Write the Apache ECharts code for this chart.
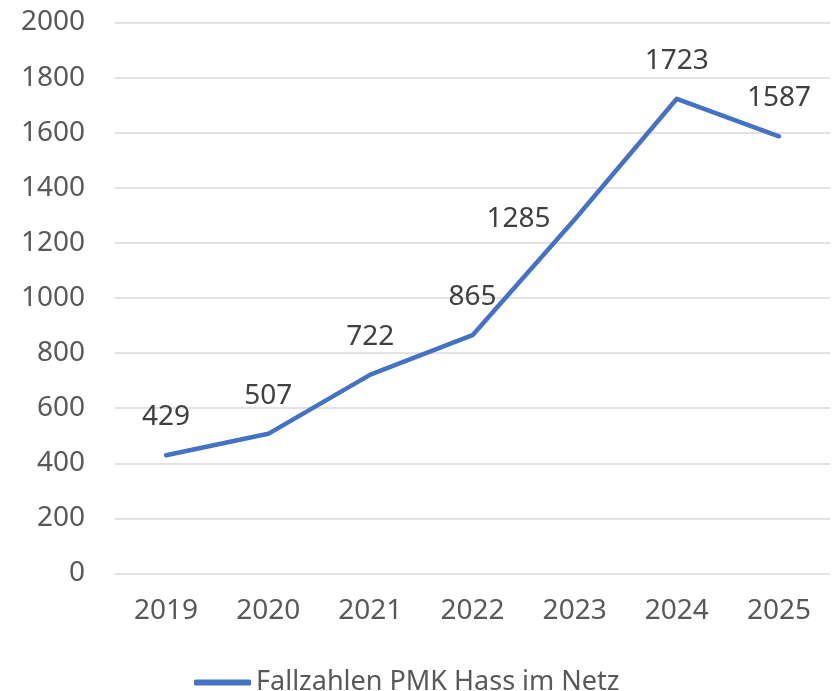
<!DOCTYPE html>
<html>
<head>
<meta charset="utf-8">
<script src="https://cdn.jsdelivr.net/npm/echarts@6/dist/echarts.min.js"></script>
<style>html,body{margin:0;padding:0;background:#fff}#c{width:834px;height:691px}</style>
</head>
<body>
<div id="c"></div>
<script>
const categories = ['2019','2020','2021','2022','2023','2024','2025'];
const values = [429, 507, 722, 865, 1285, 1723, 1587];
const labelPositions = ['top','top','top','top','left','top','top'];
const seriesName = 'Fallzahlen PMK Hass im Netz';
const yTicks = {min: 0, max: 2000, interval: 200};

const FONT = 'Noto Sans';
const chart = echarts.init(document.getElementById('c'), null, {renderer: 'canvas'});
chart.setOption({
  animation: false,
  backgroundColor: '#ffffff',
  grid: {left: 115, right: 4, top: 22.5, bottom: 691 - 573.5, containLabel: false},
  legend: {
    data: [{name: seriesName, icon: 'roundRect'}],
    left: 189, top: 664,
    itemWidth: 57, itemHeight: 6, itemGap: 5,
    itemStyle: {color: '#4472C4', opacity: 1, borderWidth: 0},
    lineStyle: {opacity: 0},
    textStyle: {fontFamily: FONT, fontSize: 27, color: '#595959', padding: [0,0,0,0]}
  },
  xAxis: {
    type: 'category', data: categories, boundaryGap: true,
    axisLine: {show: false}, axisTick: {show: false},
    axisLabel: {fontFamily: FONT, fontSize: 28, color: '#595959', margin: 24}
  },
  yAxis: {
    type: 'value', min: yTicks.min, max: yTicks.max, interval: yTicks.interval,
    axisLine: {show: false}, axisTick: {show: false},
    splitLine: {lineStyle: {color: '#d9d9d9', width: 1.5}},
    axisLabel: {fontFamily: FONT, fontSize: 28, color: '#595959', margin: 30, formatter: v => String(v)}
  },
  series: [{
    name: seriesName, type: 'line',
    data: values.map((v, i) => ({value: v, label: {position: labelPositions[i]}})),
    symbol: 'circle', symbolSize: 0.01, showSymbol: true, showAllSymbol: true,
    lineStyle: {color: '#4472C4', width: 4.5, cap: 'round', join: 'round'},
    itemStyle: {color: '#4472C4'},
    label: {show: true, fontFamily: FONT, fontSize: 28, color: '#404040', distance: 24, lineHeight: 28, opacity: 1},
    emphasis: {disabled: true}
  }]
});
</script>
</body>
</html>
